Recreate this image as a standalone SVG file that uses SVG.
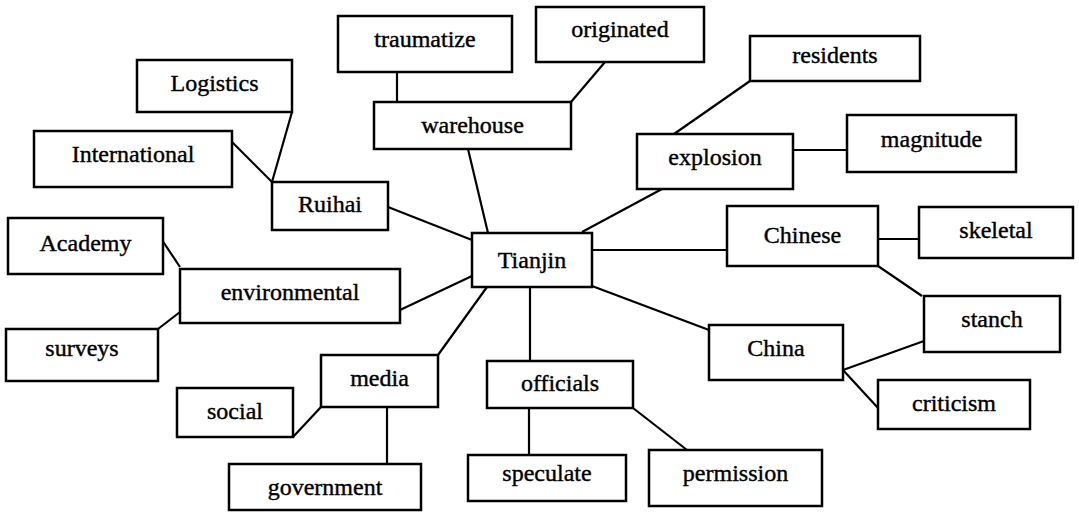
<svg xmlns="http://www.w3.org/2000/svg" width="1079" height="513" viewBox="0 0 1079 513">
<style>
.n rect{fill:#fff;stroke:#000;stroke-width:2.5}
.n text{font-family:"Liberation Serif","Times New Roman",serif;font-size:24px;fill:#000;text-anchor:middle;stroke:#000;stroke-width:0.4}
#edges line{stroke:#000;stroke-width:2.2}
</style>
<rect width="1079" height="513" fill="#fff"/>
<g id="edges">
<line x1="397" y1="72" x2="397" y2="102"/>
<line x1="605" y1="62" x2="571" y2="102"/>
<line x1="750" y1="81" x2="674" y2="134"/>
<line x1="793" y1="150" x2="847" y2="150"/>
<line x1="878" y1="239" x2="919" y2="239"/>
<line x1="592" y1="250" x2="727" y2="250"/>
<line x1="468" y1="149" x2="488" y2="233"/>
<line x1="388" y1="207" x2="472" y2="240"/>
<line x1="662" y1="189" x2="582" y2="232"/>
<line x1="292" y1="112" x2="272" y2="182"/>
<line x1="231" y1="141" x2="272" y2="182"/>
<line x1="162" y1="240" x2="180" y2="267"/>
<line x1="400" y1="310" x2="472" y2="276"/>
<line x1="158" y1="329" x2="180" y2="312"/>
<line x1="438" y1="355" x2="487" y2="287"/>
<line x1="293" y1="437" x2="321" y2="407"/>
<line x1="387" y1="407" x2="387" y2="464"/>
<line x1="530" y1="287" x2="530" y2="361"/>
<line x1="529" y1="408" x2="529" y2="455"/>
<line x1="633" y1="408" x2="687" y2="450"/>
<line x1="592" y1="286" x2="709" y2="330"/>
<line x1="878" y1="266" x2="922" y2="296"/>
<line x1="843" y1="370" x2="924" y2="341"/>
<line x1="843" y1="370" x2="878" y2="408"/>
</g>
<g id="n-traumatize" class="n"><rect x="338" y="16" width="174" height="56"/><text x="425" y="47">traumatize</text></g>
<g id="n-originated" class="n"><rect x="536" y="7" width="168" height="55"/><text x="620" y="37">originated</text></g>
<g id="n-warehouse" class="n"><rect x="374" y="102" width="197" height="47"/><text x="472.5" y="133">warehouse</text></g>
<g id="n-residents" class="n"><rect x="750" y="36" width="170" height="45"/><text x="835" y="63">residents</text></g>
<g id="n-magnitude" class="n"><rect x="847" y="115" width="169" height="57"/><text x="931.5" y="147">magnitude</text></g>
<g id="n-explosion" class="n"><rect x="637" y="134" width="156" height="55"/><text x="715" y="165">explosion</text></g>
<g id="n-chinese" class="n"><rect x="727" y="206" width="151" height="60"/><text x="802.5" y="243">Chinese</text></g>
<g id="n-skeletal" class="n"><rect x="919" y="207" width="154" height="51"/><text x="996" y="238">skeletal</text></g>
<g id="n-logistics" class="n"><rect x="137" y="60" width="155" height="52"/><text x="214.5" y="91">Logistics</text></g>
<g id="n-international" class="n"><rect x="34" y="131" width="198" height="56"/><text x="133" y="162">International</text></g>
<g id="n-ruihai" class="n"><rect x="272" y="182" width="116" height="48"/><text x="330" y="212">Ruihai</text></g>
<g id="n-academy" class="n"><rect x="8" y="218" width="155" height="56"/><text x="85.5" y="251">Academy</text></g>
<g id="n-tianjin" class="n"><rect x="472" y="233" width="120" height="54"/><text x="532" y="268">Tianjin</text></g>
<g id="n-environmental" class="n"><rect x="180" y="269" width="220" height="54"/><text x="290" y="300">environmental</text></g>
<g id="n-surveys" class="n"><rect x="6" y="329" width="152" height="52"/><text x="82" y="356">surveys</text></g>
<g id="n-social" class="n"><rect x="177" y="388" width="116" height="49"/><text x="235" y="419">social</text></g>
<g id="n-media" class="n"><rect x="321" y="355" width="117" height="52"/><text x="379.5" y="386">media</text></g>
<g id="n-government" class="n"><rect x="229" y="464" width="192" height="46"/><text x="325" y="495">government</text></g>
<g id="n-officials" class="n"><rect x="487" y="361" width="146" height="47"/><text x="560" y="391">officials</text></g>
<g id="n-speculate" class="n"><rect x="468" y="455" width="158" height="46"/><text x="547" y="481">speculate</text></g>
<g id="n-permission" class="n"><rect x="649" y="450" width="173" height="56"/><text x="735.5" y="481">permission</text></g>
<g id="n-china" class="n"><rect x="709" y="325" width="134" height="55"/><text x="776" y="356">China</text></g>
<g id="n-stanch" class="n"><rect x="924" y="296" width="136" height="56"/><text x="992" y="327">stanch</text></g>
<g id="n-criticism" class="n"><rect x="878" y="380" width="152" height="49"/><text x="954" y="411">criticism</text></g>
</svg>
